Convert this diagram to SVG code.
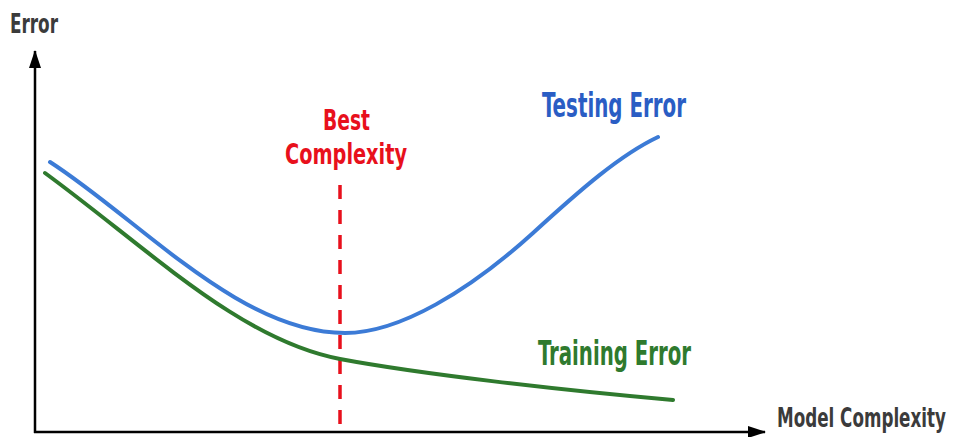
<svg xmlns="http://www.w3.org/2000/svg" width="955" height="437" viewBox="0 0 955 437">
<style>
  text { font-family: "DejaVu Sans Condensed", "DejaVu Sans", "Liberation Sans", sans-serif; font-weight: bold; font-stretch: condensed; }
  .axis { stroke: #000; stroke-width: 2.5; fill: none; }
  .lbl { fill: #3b3b3b; }
  .curve { fill: none; stroke-width: 4; stroke-linecap: round; }
</style>
<defs>
  <marker id="arrow" viewBox="0 0 18 12" refX="17" refY="6" markerWidth="18" markerHeight="12" markerUnits="userSpaceOnUse" orient="auto">
    <path d="M0,0 L18,6 L0,12 Z" fill="#000"/>
  </marker>
</defs>
<rect width="955" height="437" fill="#fff"/>
<g id="axes">
  <line class="axis" x1="35" y1="433" x2="35" y2="51" marker-end="url(#arrow)"/>
  <line class="axis" x1="34" y1="432" x2="765" y2="432" marker-end="url(#arrow)"/>
  <text class="lbl" x="10" y="33" font-size="27" textLength="48" lengthAdjust="spacingAndGlyphs">Error</text>
  <text class="lbl" transform="translate(777,427) scale(0.69,1)" x="0" y="0" font-size="27">Model Complexity</text>
</g>
<g id="connectors">
  <line x1="340" y1="185" x2="340" y2="432" stroke="#e8101c" stroke-width="3.5" stroke-dasharray="14 11"/>
</g>
<g id="best">
  <text x="323" y="130" font-size="29" fill="#e8101c" textLength="47" lengthAdjust="spacingAndGlyphs">Best</text>
  <text x="285" y="164" font-size="29" fill="#e8101c" textLength="122" lengthAdjust="spacingAndGlyphs">Complexity</text>
</g>
<g id="testing">
  <path class="curve" stroke="#3c7bd6" d="M50,162 C140,220 240,333 345,333 C400,333 470,290 533,233 C580,190 620,155 658,137"/>
  <text x="542" y="117" font-size="33" fill="#2a5dc4" textLength="144" lengthAdjust="spacingAndGlyphs">Testing Error</text>
</g>
<g id="training">
  <path class="curve" stroke="#2f7a2e" d="M45,173 C150,250 240,340 340,359 C420,374 560,390 673,400"/>
  <text x="538" y="365" font-size="33" fill="#2f7a2e" textLength="153" lengthAdjust="spacingAndGlyphs">Training Error</text>
</g>
</svg>
